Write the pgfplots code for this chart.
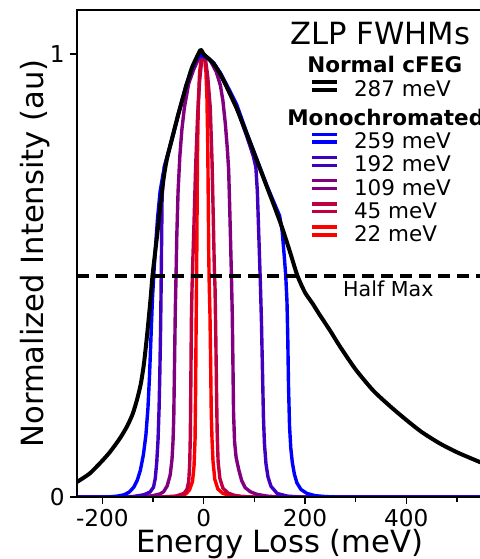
\documentclass[border=0pt]{standalone}
\usepackage{pgfplots}
\pgfplotsset{compat=1.18}
\usepackage{fontspec}
\setmainfont{DejaVu Sans}
\definecolor{cA}{RGB}{0,0,255}
\definecolor{cB}{RGB}{64,0,191}
\definecolor{cC}{RGB}{128,0,128}
\definecolor{cD}{RGB}{191,0,64}
\definecolor{cE}{RGB}{255,0,0}
\begin{document}
\begin{tikzpicture}
\begin{axis}[
  scale only axis, width=202.667pt, height=243.5pt,
  xmin=-250, xmax=550, ymin=0, ymax=1.1,
  axis on top, clip=true,
  axis line style={line width=1.3pt},
  tick align=outside, xtick pos=lower, ytick pos=left,
  xtick={-200,0,200,400}, xticklabels={-200,0,200,400},
  minor xtick={-100,100,300,500},
  ytick={0,1}, yticklabels={0,1},
  major tick length=3.5pt, minor tick length=2.5pt,
  every tick/.style={black, line width=0.8pt},
  /pgf/number format/assume math mode=true,
  ticklabel style={font=\fontsize{11.6}{13}\selectfont, inner sep=0pt},
  xticklabel style={anchor=north, yshift=-2.3pt},
  yticklabel style={anchor=east, xshift=-2.5pt},
  xlabel={Energy Loss (meV)}, ylabel={Normalized Intensity (au)},
  label style={font=\fontsize{15.3}{18}\selectfont, inner sep=0pt},
  xlabel style={at={(axis description cs:0.5,-0.11294)}, anchor=base},
  ylabel style={at={(axis description cs:-0.10362,0.5)}, anchor=center},
  legend style={draw=none, fill=none, at={(axis description cs:0.575,0.9043)}, anchor=north west,
    inner sep=0pt, outer sep=0pt, row sep=2.1pt, column sep=7.5pt,
    font=\fontsize{10.75}{12}\selectfont, nodes={inner sep=0pt, outer sep=0pt}},
  legend cell align=left,
  legend image code/.code={\path (0pt,0pt) -- (12.5pt,0pt); \draw[#1] (0pt,3.9pt) -- (12.5pt,3.9pt);},
  every axis plot/.append style={line join=round},
]
% 22 meV
\addplot[cE, line width=1.7pt, forget plot] coordinates {(-250,0) (-70,0) (-48,0.002) (-35,0.007) (-28,0.016) (-22,0.035) (-19,0.07) (-17,0.13) (-15.8,0.25) (-15,0.37) (-14.3,0.46) (-13.5,0.56) (-12.8,0.68) (-12,0.79) (-10.5,0.89) (-8,0.96) (-4,0.995) (-1,1.0) (2,0.99) (4.5,0.96) (6.5,0.9) (8,0.8) (9,0.68) (10,0.55) (11,0.48) (12.5,0.41) (13.8,0.3) (15,0.19) (16.5,0.13) (18.5,0.08) (22,0.04) (28,0.018) (38,0.008) (55,0.003) (75,0.001) (100,0) (550,0)};
% 45 meV
\addplot[cD, line width=1.7pt, forget plot] coordinates {(-250,0) (-85,0) (-55,0.002) (-39,0.008) (-33,0.017) (-29.5,0.035) (-27.5,0.075) (-26.3,0.14) (-25.2,0.27) (-24.2,0.40) (-23,0.47) (-21.5,0.53) (-19,0.62) (-16,0.74) (-12,0.86) (-8,0.94) (-4,0.985) (0,1.0) (4,0.985) (8,0.95) (13,0.88) (16.5,0.76) (19,0.63) (21,0.52) (22.5,0.47) (24,0.36) (25.5,0.23) (26.8,0.14) (28.5,0.08) (32,0.042) (38,0.02) (48,0.009) (60,0.004) (75,0.001) (100,0) (550,0)};
% 109 meV
\addplot[cC, line width=1.7pt, forget plot] coordinates {(-250,0) (-125,0) (-100,0.003) (-86,0.007) (-79,0.012) (-72,0.025) (-66,0.05) (-62.5,0.085) (-60.5,0.125) (-59,0.18) (-57.5,0.30) (-56,0.42) (-54.5,0.50) (-53,0.59) (-50.5,0.69) (-47,0.77) (-43,0.83) (-38,0.88) (-29.5,0.934) (-20,0.965) (-10,0.99) (0,1.0) (13,0.986) (25,0.96) (33,0.93) (38,0.895) (42.8,0.843) (46.5,0.79) (49.3,0.74) (51.5,0.65) (53.5,0.56) (55,0.49) (56.5,0.41) (57.8,0.3) (59,0.19) (61,0.125) (64,0.09) (69,0.063) (75,0.037) (82,0.021) (92,0.012) (105,0.006) (125,0.002) (150,0) (550,0)};
% 192 meV
\addplot[cB, line width=1.7pt, forget plot] coordinates {(-250,0) (-160,0) (-140,0.001) (-118,0.005) (-106,0.011) (-99,0.022) (-95.5,0.042) (-92.5,0.08) (-90,0.13) (-88,0.2) (-86.5,0.28) (-85,0.38) (-84,0.47) (-83,0.58) (-82,0.68) (-78,0.745) (-72,0.77) (-64,0.80) (-55,0.84) (-45,0.885) (-35,0.93) (-25,0.96) (-15,0.985) (-6,1.0) (0,0.995) (10,0.99) (20,0.98) (33,0.955) (46,0.925) (65,0.88) (85,0.815) (98,0.77) (103,0.745) (106,0.69) (108,0.62) (110,0.55) (112,0.48) (114,0.40) (116,0.29) (118,0.18) (120,0.12) (123,0.075) (127,0.045) (133,0.024) (145,0.008) (165,0.002) (190,0) (550,0)};
% 259 meV
\addplot[cA, line width=1.7pt, forget plot] coordinates {(-250,0) (-190,0) (-170,0.002) (-157,0.005) (-147,0.011) (-138,0.022) (-131,0.038) (-125,0.06) (-119,0.095) (-114,0.14) (-110,0.2) (-107,0.27) (-104,0.36) (-101,0.45) (-98,0.51) (-95,0.565) (-91,0.63) (-86,0.69) (-80,0.73) (-74,0.76) (-68,0.785) (-59,0.825) (-50,0.865) (-39,0.91) (-30,0.945) (-23,0.97) (-15,0.99) (-6,1.0) (0,0.995) (10,0.99) (20,0.98) (33,0.958) (46,0.93) (65,0.887) (85,0.823) (105,0.763) (125,0.703) (140,0.662) (150,0.635) (155,0.6) (159,0.545) (162,0.5) (164.5,0.44) (166,0.36) (167.5,0.25) (169.5,0.16) (172,0.11) (175,0.078) (179,0.052) (184,0.032) (192,0.017) (204,0.008) (220,0.003) (240,0.001) (260,0) (550,0)};
% 287 meV normal cFEG
\addplot[black, line width=2pt, smooth, tension=0.4, forget plot] coordinates {(-250,0.034) (-225,0.053) (-200,0.082) (-184,0.103) (-165,0.133) (-151,0.16) (-140,0.188) (-131,0.222) (-124,0.256) (-118,0.3) (-112,0.362) (-105,0.445) (-101,0.50) (-95,0.56) (-90,0.61) (-85,0.665) (-79,0.72) (-74,0.755) (-68,0.785) (-59,0.825) (-50,0.865) (-39,0.91) (-30,0.945) (-23,0.97) (-15,0.99) (-6,1.01) (0,1.0) (10,0.99) (20,0.978) (33,0.955) (46,0.925) (65,0.878) (85,0.82) (105,0.76) (125,0.7) (140,0.655) (155,0.608) (170,0.555) (185,0.50) (200,0.462) (215,0.437) (227,0.415) (250,0.375) (269,0.34) (300,0.288) (335,0.24) (370,0.203) (400,0.174) (430,0.147) (466,0.121) (500,0.101) (545,0.079) (550,0.077)};
% half max
\addplot[black, line width=2pt, dash pattern=on 6pt off 3.5pt, forget plot] coordinates {(-250,0.5) (550,0.5)};
\node[anchor=base, font=\fontsize{10.3}{12}\selectfont, inner sep=0pt] at (axis cs:364.5,0.452) {Half Max};
\node[anchor=base, font=\fontsize{15.3}{18}\selectfont, inner sep=0pt] at (axis cs:348.7,1.0226) {ZLP FWHMs};
\addlegendimage{empty legend}
\addlegendentry{\rule[-0.9pt]{0pt}{8.9pt}\hspace*{-23.35pt}\textbf{Normal cFEG}}
\addlegendimage{black, line width=2pt}
\addlegendentry{\rule[-2.5pt]{0pt}{10.5pt}287 meV}
\addlegendimage{empty legend}
\addlegendentry{\rule[-0.9pt]{0pt}{11.8pt}\hspace*{-33.35pt}\textbf{Monochromated}}
\addlegendimage{cA, line width=1.7pt}
\addlegendentry{\rule[-2.5pt]{0pt}{10.5pt}259 meV}
\addlegendimage{cB, line width=1.7pt}
\addlegendentry{\rule[-2.5pt]{0pt}{10.5pt}192 meV}
\addlegendimage{cC, line width=1.7pt}
\addlegendentry{\rule[-2.5pt]{0pt}{10.5pt}109 meV}
\addlegendimage{cD, line width=1.7pt}
\addlegendentry{\rule[-2.5pt]{0pt}{10.5pt}45 meV}
\addlegendimage{cE, line width=1.7pt}
\addlegendentry{\rule[-2.5pt]{0pt}{10.5pt}22 meV}
\end{axis}
\pgfresetboundingbox
\path[use as bounding box] (-38.5pt,-31pt) rectangle (201pt,248.5pt);
\end{tikzpicture}
\end{document}
